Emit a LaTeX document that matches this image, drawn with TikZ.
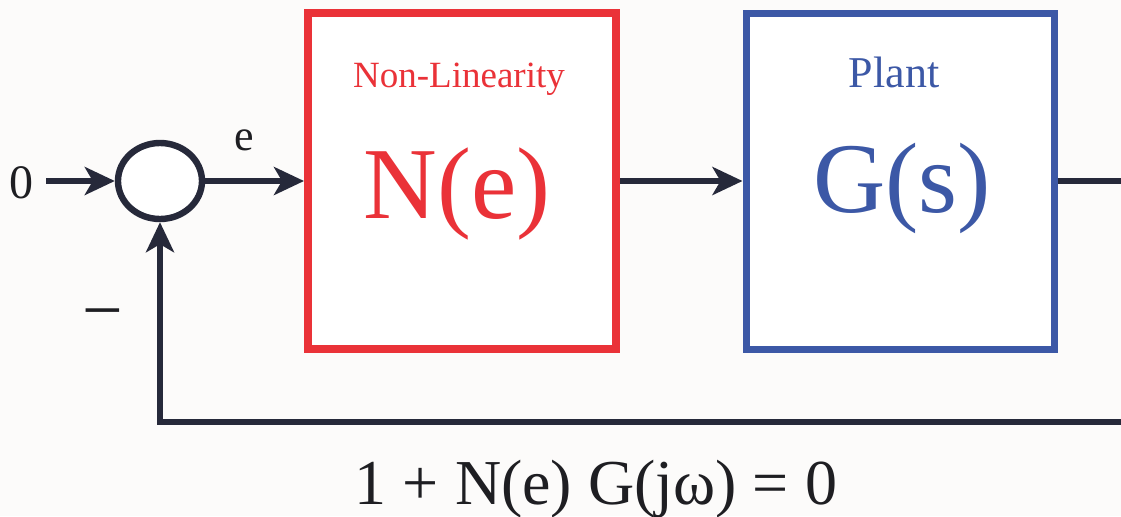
\documentclass[tikz,border=0pt]{standalone}
\usepackage{fontspec}
\setmainfont{Liberation Serif}
\usepackage{xcolor}
\usepackage{tikz}
\usetikzlibrary{positioning, arrows.meta, shapes.geometric, calc}

\definecolor{nlred}{RGB}{234,50,56}
\definecolor{plantblue}{RGB}{60,88,166}
\definecolor{linec}{RGB}{38,41,58}
\definecolor{txtc}{RGB}{30,30,34}
\definecolor{bgc}{RGB}{252,251,250}

\begin{document}
\begin{tikzpicture}[x=0.5pt, y=-0.5pt,
        block/.style={draw, rectangle, fill=white, minimum width=154pt, minimum height=168pt, line width=4pt},
        sumnode/.style={draw=linec, ellipse, fill=white, minimum width=42pt, minimum height=38pt, line width=3.2pt, inner sep=0pt},
        arrow/.style={->, >={Stealth[length=15pt, width=14pt, inset=4pt]}, line width=3pt, draw=linec},
        line/.style={line width=3pt, draw=linec},
        sig/.style={text=txtc, inner sep=0pt, anchor=base}
    ]

    % background and page size
    \fill[bgc] (0,0) rectangle (1121,516);
    \useasboundingbox (0,0) rectangle (1121,516);

    % --- Summing junction ---
    \node[sumnode] (sum) at (160,181) {};
    \coordinate (in) at (46,181);

    % --- Non-linearity block ---
    \node[block, draw=nlred] (nonlin) at (462,181) {};
    \node[sig, text=nlred, font=\fontsize{18.5}{20}\selectfont] (nltitle) at (459,87) {Non-Linearity};
    \node[sig, text=nlred, font=\fontsize{51}{56}\selectfont] (nlfun) at (457,218) {N(e)};

    % --- Plant block ---
    \node[block, draw=plantblue, line width=3.5pt] (plant) at (900,181) {};
    \node[sig, text=plantblue, font=\fontsize{22}{24}\selectfont] (pltitle) at (894,87) {Plant};
    \node[sig, text=plantblue, font=\fontsize{50}{55}\selectfont] (plfun) at (902,212) {G(s)};

    % --- Open ends on the right ---
    \coordinate (out) at (1121,181);
    \coordinate (fb) at (1121,422);

    % --- Signal labels ---
    \node[sig, font=\fontsize{24}{26}\selectfont] (zero) at (22,198) {0};
    \node[sig, font=\fontsize{22}{24}\selectfont] (err) at (244,150) {e};
    \node[sig, font=\fontsize{36}{38}\selectfont] (minus) at (103,334) {−};

    % --- Arrows ---
    \draw[arrow] (in) -- (sum);
    \draw[arrow] (sum) -- (nonlin);
    \draw[arrow] (nonlin) -- (plant);
    \draw[line] (plant) -- (out);
    \draw[arrow] (fb) -| (sum);

    % describing function condition
    \node[sig, font=\fontsize{32}{34}\selectfont] (cond) at (596,504) {1 + N(e) G(jω) = 0};

\end{tikzpicture}
\end{document}
